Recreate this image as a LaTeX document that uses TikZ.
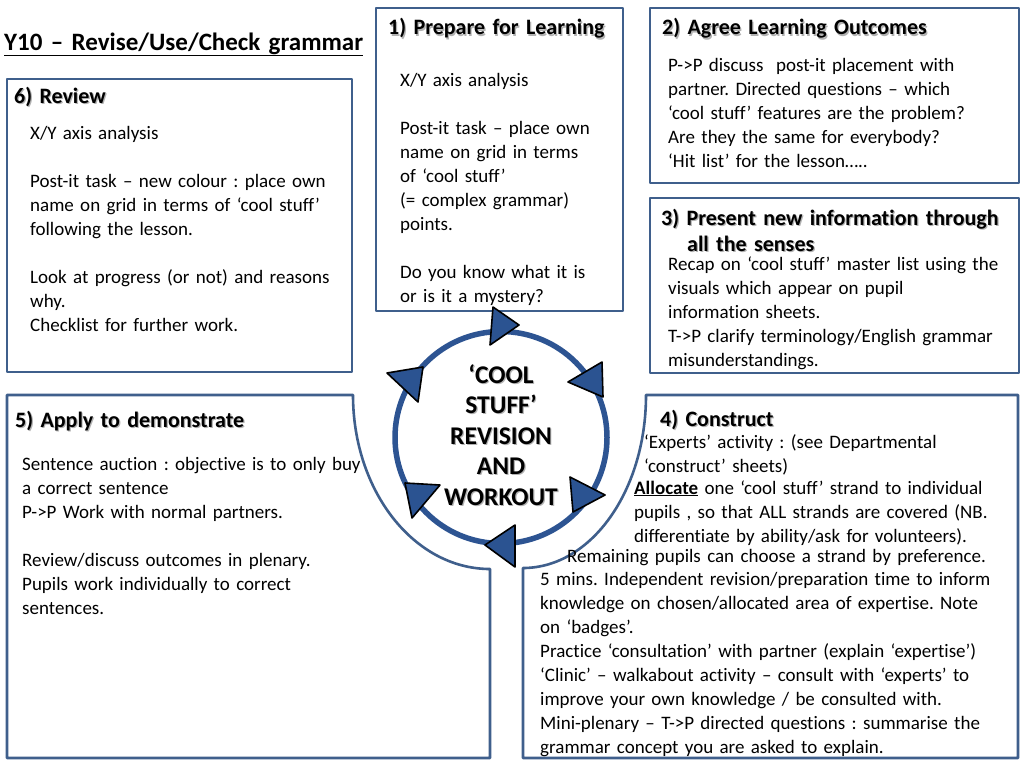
\documentclass[tikz,border=0pt]{standalone}
\usepackage{fontspec}
\setmainfont{Carlito}[Ligatures={TeX,NoCommon}]
\usepackage{xcolor}
\usetikzlibrary{positioning}
\definecolor{frame}{HTML}{3F5F8C}
\definecolor{ring}{HTML}{2D5492}
\definecolor{wedge}{HTML}{2B5391}
\newcommand{\shd}[1]{\leavevmode\rlap{\kern1.2pt\raisebox{-1.2pt}{\color{black!30}#1}}#1}
\frenchspacing

\begin{document}
\begin{tikzpicture}[x=1pt,y=1pt,
  panel/.style={draw=frame,line width=2.6pt,line join=round},
  head/.style={font=\bfseries\fontsize{22}{24}\selectfont,inner sep=0pt,anchor=base west,align=left,text width=400pt},
  body/.style={font=\fontsize{19}{24}\selectfont,inner sep=0pt,anchor=base west,align=left,text width=480pt},
  hub/.style={font=\bfseries\fontsize{25.5}{30.5}\selectfont,inner sep=0pt,anchor=base,align=center,text width=160pt}]
  \useasboundingbox[fill=white] (0,0) rectangle (1024,-768);

  % page title
  \node[head,font=\bfseries\fontsize{25}{28}\selectfont] (topic) at (4,-50) {\underline{Y10 – Revise/Use/Check grammar}};

  % panels
  \draw[panel] (7,-79) rectangle (352,-372);     % 6
  \draw[panel] (376,-8) rectangle (623,-311);    % 1
  \draw[panel] (650,-8) rectangle (1019,-183);   % 2
  \draw[panel] (650,-198) rectangle (1019,-373); % 3
  \draw[panel] (7,-395) -- (353,-395) .. controls (353,-491) and (414,-569) .. (490,-569)
    -- (490,-758) -- (7,-758) -- cycle;          % 5
  \draw[panel] (646,-395) -- (1018,-395) -- (1018,-758) -- (523,-758) -- (523,-568)
    .. controls (591,-568) and (646,-491) .. (646,-395) -- cycle; % 4

  % 6) Review
  \node[head] (reviewhead) at (14,-103) {\shd{6) Review}};
  \node[body] (reviewbody) at (30,-139) {X/Y axis analysis\\[24pt]
    Post-it task – new colour : place own\\ name on grid in terms of ‘cool stuff’\\ following the lesson.\\[24pt]
    Look at progress (or not) and reasons\\ why.\\ Checklist for further work.};

  % 1) Prepare
  \node[head] (preparehead) at (388,-35) {\shd{1) Prepare for Learning}};
  \node[body] (preparebody) at (400,-86) {X/Y axis analysis\\[24pt]
    Post-it task – place own\\ name on grid in terms\\ of ‘cool stuff’\\ (= complex grammar)\\ points.\\[24pt]
    Do you know what it is\\ or is it a mystery?};

  % 2) Agree
  \node[head] (agreehead) at (662,-35) {\shd{2) Agree Learning Outcomes}};
  \node[body] (agreebody) at (668,-71) {P->P discuss\ \ post-it placement with\\ partner. Directed questions – which\\
    ‘cool stuff’ features are the problem?\\ Are they the same for everybody?\\ ‘Hit list’ for the lesson…..};

  % 3) Present
  \node[head] (presenthead) at (661,-225) {\shd{3) Present new information through}\\[2pt]\hspace*{26pt}\shd{all the senses}};
  \node[body] (presentbody) at (668,-270) {Recap on ‘cool stuff’ master list using the\\ visuals which appear on pupil\\
    information sheets.\\ T->P clarify terminology/English grammar\\ misunderstandings.};

  % 5) Apply
  \node[head] (applyhead) at (15,-427) {\shd{5) Apply to demonstrate}};
  \node[body] (applybody) at (22,-470) {Sentence auction : objective is to only buy\\ a correct sentence\\
    P->P Work with normal partners.\\[24pt] Review/discuss outcomes in plenary.\\ Pupils work individually to correct\\ sentences.};

  % 4) Construct
  \node[head] (constructhead) at (660,-426) {\shd{4) Construct}};
  \node[body] (experts) at (644,-448) {‘Experts’ activity : (see Departmental\\ ‘construct’ sheets)};
  \node[body] (allocate) at (634,-494) {\underline{\textbf{Allocate}} one ‘cool stuff’ strand to individual\\
    pupils , so that ALL strands are covered (NB.\\ differentiate by ability/ask for volunteers).};
  \node[body] (remaining) at (567,-562) {Remaining pupils can choose a strand by preference.};
  \node[body] (clinic) at (540,-585) {5 mins. Independent revision/preparation time to inform\\
    knowledge on chosen/allocated area of expertise. Note\\ on ‘badges’.\\
    Practice ‘consultation’ with partner (explain ‘expertise’)\\
    ‘Clinic’ – walkabout activity – consult with ‘experts’ to\\
    improve your own knowledge / be consulted with.\\
    Mini-plenary – T->P directed questions : summarise the\\ grammar concept you are asked to explain.};

  % cycle ring
  \draw[ring,line width=5.5pt] (501,-437.5) circle (106);
  \node[hub] (hub) at (501,-383) {\shd{‘COOL}\\ \shd{STUFF’}\\ \shd{REVISION}\\ \shd{AND}\\ \shd{WORKOUT}};
  \foreach \p/\q/\r in {{(493,-307)}/{(490,-345)}/{(519,-325)},
                        {(602,-362)}/{(603,-397)}/{(568,-382)},
                        {(570,-477)}/{(573,-512)}/{(605,-495)},
                        {(515,-525)}/{(515,-567)}/{(485,-545)},
                        {(405,-483)}/{(440,-485)}/{(412,-518)},
                        {(387,-373)}/{(423,-367)}/{(418,-402)}}
    \filldraw[fill=wedge,draw=black,line width=1.6pt,line join=round] \p -- \q -- \r -- cycle;
\end{tikzpicture}
\end{document}
